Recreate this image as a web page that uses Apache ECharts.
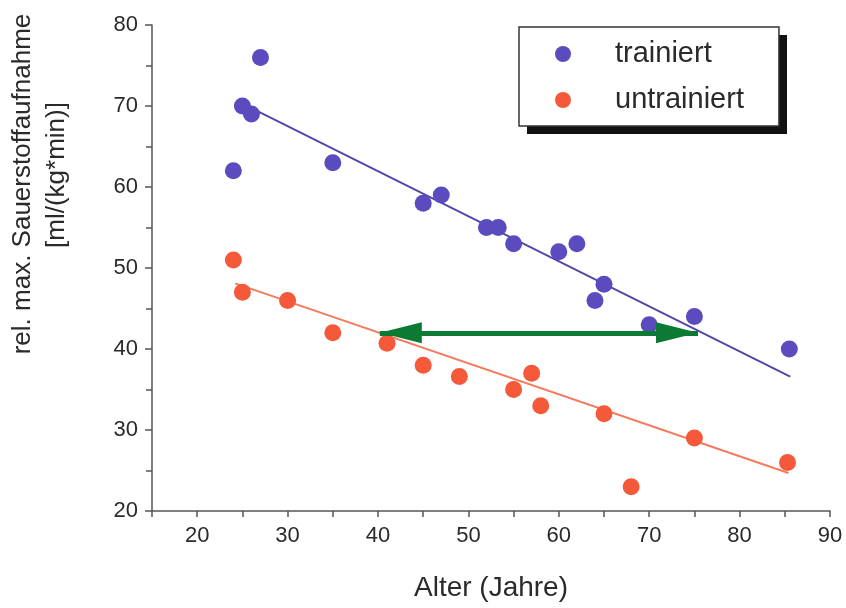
<!DOCTYPE html>
<html>
	<head>
		<meta charset="utf-8">
		<title></title>
		<script src="https://cdn.jsdelivr.net/npm/echarts@6/dist/echarts.min.js"></script>
		<style>
			html, body { margin: 0; padding: 0; background: #fff; }
		</style>
	</head>
	<body>
		<div id="main" style="width: 846px; height: 608px;"></div>
		<script type="text/javascript">
			// Messpunkte (Alter, rel. max. Sauerstoffaufnahme)
			var trainiert = [
				[24, 62], [25, 70], [26, 69], [27, 76], [35, 63], [45, 58], [47, 59],
				[52, 55], [53.3, 55], [55, 53], [60, 52], [62, 53], [65, 48], [64, 46],
				[70, 43], [75, 44], [85.5, 40]
			];
			var untrainiert = [
				[24, 51], [25, 47], [30, 46], [35, 42], [41, 40.7], [45, 38], [49, 36.6],
				[55, 35], [57, 37], [58, 33], [65, 32], [68, 23], [75, 29], [85.3, 26]
			];
			// Regressionsgeraden (Endpunkte)
			var trendTrainiert = [[25, 70.3], [85.6, 36.6]];
			var trendUntrainiert = [[24.2, 48.1], [85.4, 24.7]];
			// Pfeil: von/bis Alter, Höhe
			var pfeilVon = 40.2, pfeilBis = 75.4, pfeilHoehe = 42;

			var font = '"Liberation Sans", Arial, sans-serif';
			var lila = '#5a4cbf';
			var rot = '#f4593a';
			var textFarbe = '#2a2a2a';

			var myCharts = echarts.init(document.getElementById("main"));
			var pfeilEnde = { symbol: 'triangle', symbolSize: [21, 42], symbolOffset: [0, 21] };

			option = {
				animation: false,
				grid: { left: 152, right: 16, top: 25, bottom: 97 },
				legend: {
					data: ['trainiert', 'untrainiert'],
					orient: 'vertical',
					left: 519,
					top: 27,
					padding: [11, 35, 10, 36],
					itemGap: 14,
					itemWidth: 16,
					itemHeight: 16,
					icon: 'circle',
					backgroundColor: '#fff',
					borderColor: '#333',
					borderWidth: 1.5,
					selectedMode: false,
					textStyle: { fontFamily: font, fontSize: 29, color: textFarbe, lineHeight: 32, padding: [0, 0, 0, 39] }
				},
				graphic: [
					// Schatten hinter der Legende
					{ type: 'rect', z: 0, shape: { x: 527, y: 35, width: 260, height: 99 }, style: { fill: '#111' } },
					{ type: 'text', x: 23, y: 184, rotation: Math.PI / 2,
						style: { text: 'rel. max. Sauerstoffaufnahme', font: '26px ' + font, fill: textFarbe, align: 'center', verticalAlign: 'middle' } },
					{ type: 'text', x: 57, y: 175, rotation: Math.PI / 2,
						style: { text: '[ml/(kg*min)]', font: '26px ' + font, fill: textFarbe, align: 'center', verticalAlign: 'middle' } }
				],
				xAxis: {
					type: 'value',
					min: 15,
					max: 90,
					interval: 5,
					name: 'Alter (Jahre)',
					nameLocation: 'middle',
					nameGap: 63,
					nameTextStyle: { fontFamily: font, fontSize: 28, color: textFarbe },
					axisLine: { lineStyle: { color: '#555', width: 1.5 } },
					axisTick: { inside: false, length: 6, lineStyle: { color: '#555', width: 1.5 } },
					axisLabel: {
						margin: 14, fontFamily: font, fontSize: 22, color: textFarbe,
						formatter: function (v) { return v % 10 === 0 ? v : ''; }
					},
					splitLine: { show: false }
				},
				yAxis: {
					type: 'value',
					min: 20,
					max: 80,
					interval: 10,
					axisLine: { show: true, lineStyle: { color: '#555', width: 1.5 } },
					axisTick: { show: true, length: 7, lineStyle: { color: '#555', width: 1.5 } },
					minorTick: { show: true, splitNumber: 2, length: 6, lineStyle: { color: '#555', width: 1.5 } },
					axisLabel: { margin: 14, fontFamily: font, fontSize: 22, color: textFarbe },
					splitLine: { show: false }
				},
				series: [
					{
						name: 'trainiert', type: 'scatter', data: trainiert,
						symbolSize: 17, itemStyle: { color: lila, opacity: 1 }, z: 3
					},
					{
						name: 'untrainiert', type: 'scatter', data: untrainiert,
						symbolSize: 17, itemStyle: { color: rot, opacity: 1 }, z: 3
					},
					{
						name: 'Trend trainiert', type: 'line', data: trendTrainiert,
						showSymbol: false, silent: true, lineStyle: { color: '#5248a8', width: 2 }, z: 2
					},
					{
						name: 'Trend untrainiert', type: 'line', data: trendUntrainiert,
						showSymbol: false, silent: true, lineStyle: { color: '#f57a5e', width: 2 }, z: 2
					},
					{
						name: 'Pfeil', type: 'line', data: [], z: 4,
						markLine: {
							silent: true,
							label: { show: false },
							lineStyle: { color: '#0b7a32', width: 5, type: 'solid' },
							itemStyle: { color: '#0b7a32' },
							emphasis: { disabled: true },
							data: [[
								Object.assign({ coord: [pfeilVon, pfeilHoehe] }, pfeilEnde),
								Object.assign({ coord: [pfeilBis, pfeilHoehe] }, pfeilEnde)
							]]
						}
					}
				]
			};
			myCharts.setOption(option);
		</script>
	</body>
</html>
